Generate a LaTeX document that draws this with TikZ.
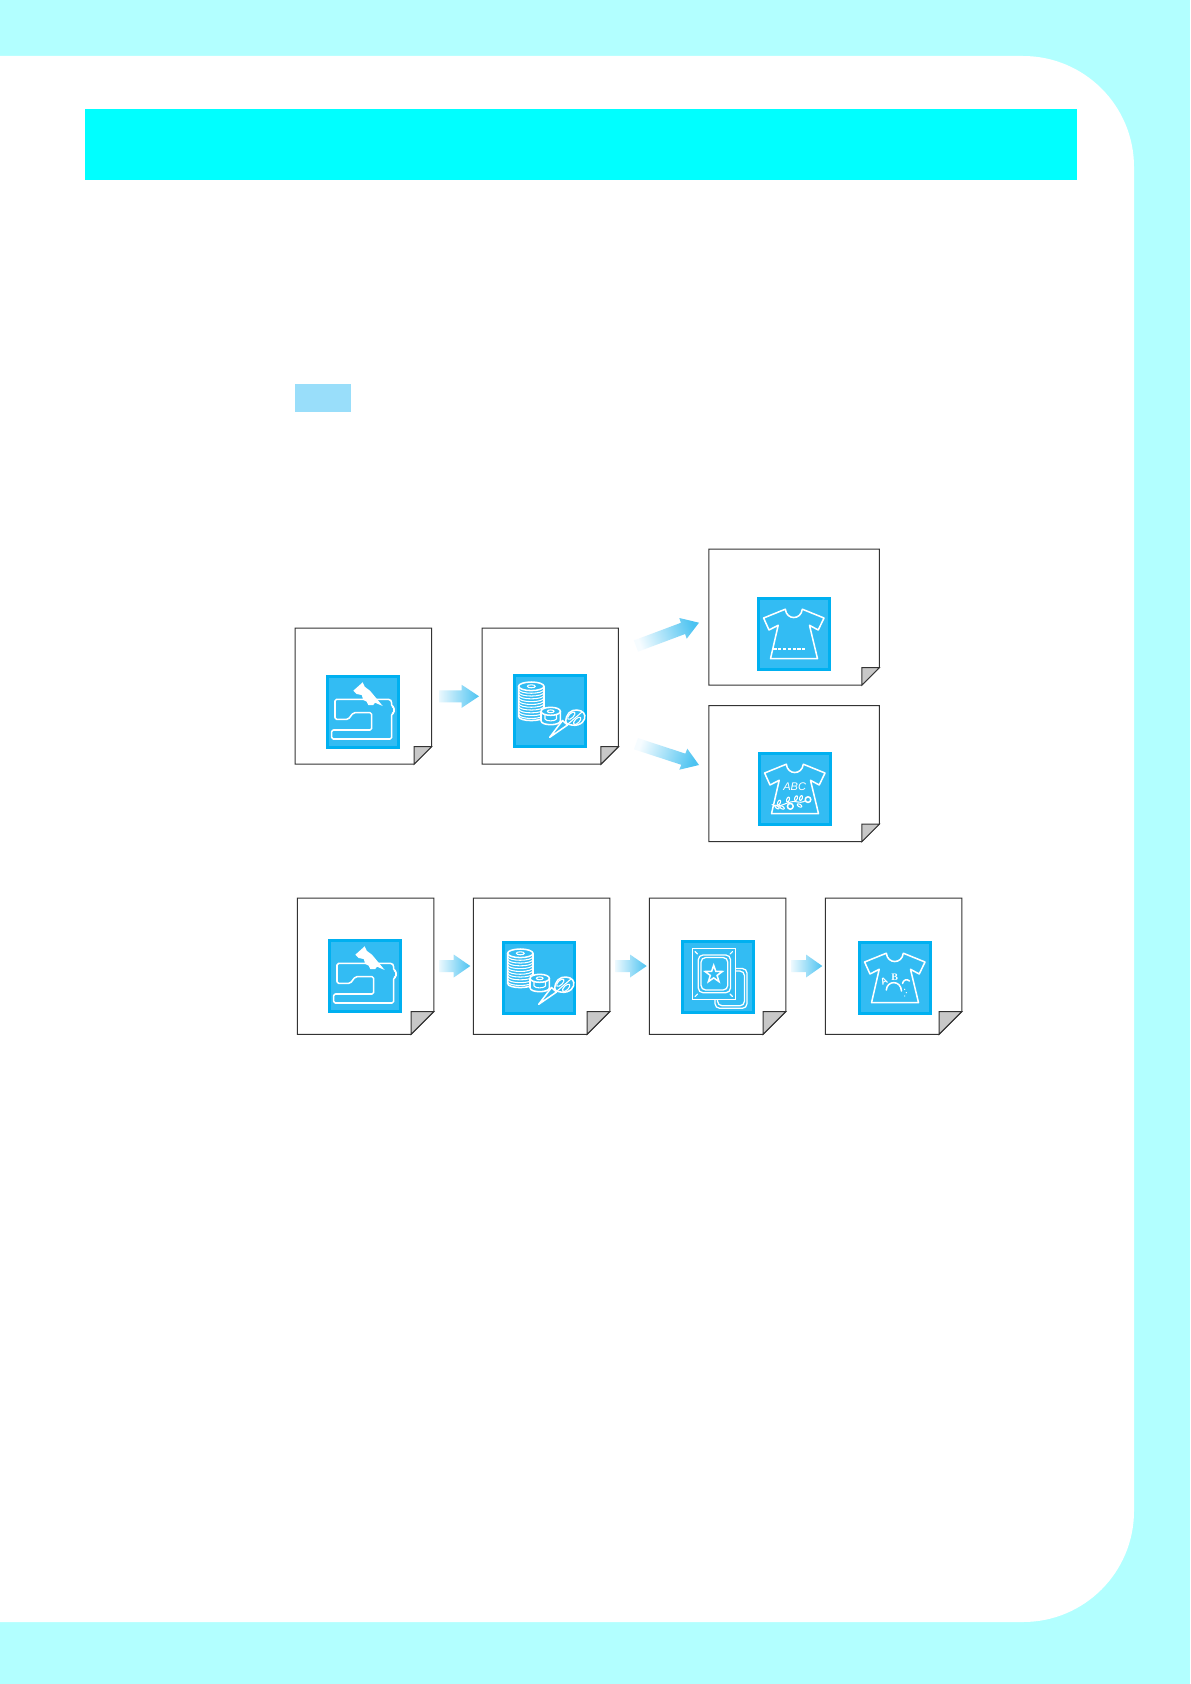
\documentclass[tikz,border=0pt]{standalone}
\usepackage{fontspec}
\setmainfont{Liberation Sans}
\newfontfamily\iconserif{Liberation Serif}
\definecolor{bandcol}{HTML}{B2FFFF}
\definecolor{headcol}{HTML}{00FFFF}
\definecolor{tabcol}{HTML}{99DEFA}
\definecolor{iconedge}{HTML}{00B0F0}
\definecolor{iconfill}{HTML}{33BCF3}
\definecolor{foldcol}{HTML}{C8C8C8}
\definecolor{arrowcol}{HTML}{4DC3F1}
\definecolor{arrowtail}{HTML}{EAF8FE}
\definecolor{slanttail}{HTML}{F6FCFF}
\definecolor{pageline}{HTML}{333333}
\tikzset{
  pagebox/.style={minimum height=136.2*0.75pt,inner sep=0pt,outer sep=0pt},
  pageedge/.style={draw=pageline,line width=0.75pt,fill=white,line join=miter},
  foldedge/.style={draw=pageline,line width=0.75pt,fill=foldcol,line join=miter},
  iconbox/.style={minimum size=71*0.75pt,inner sep=0pt,outer sep=0pt,draw=iconedge,line width=2.25pt,fill=iconfill},
  ink/.style={draw=white,line width=1.15pt,line join=round,line cap=round},
  thin ink/.style={draw=white,line width=0.8pt,line join=round,line cap=round},
  inkfill/.style={fill=white,draw=none},
  hoop/.style={draw=white,line width=0.95pt,rounded corners=3.5pt},
  blockarrow/.style={draw=none,bottom color=slanttail,top color=arrowcol}
}
% page with a folded corner: name, left, top, fold width, sheet width
\newcommand\PageSheet[5]{%
  \node[pagebox,minimum width=#5*0.75pt,anchor=north west] (#1) at (#2,#3) {};
  \path[pageedge] (#1.north west) -- (#1.north east) -- ([yshift=#4*0.75pt]#1.south east)
     -- ([xshift=-#4*0.75pt]#1.south east) -- (#1.south west) -- cycle;
  \path[foldedge] ([yshift=#4*0.75pt]#1.south east) -- ([xshift=-#4*0.75pt,yshift=#4*0.75pt]#1.south east)
     -- ([xshift=-#4*0.75pt]#1.south east) -- cycle;
}
% horizontal block arrow: name, tail x, head base x, tip x, y
\newcommand\FlatArrow[5]{%
  \coordinate (#1t) at (#2,#5);
  \coordinate (#1h) at (#4,#5);
  \path[draw=none,left color=arrowtail,right color=arrowcol]
    (#2,#5-6) -- (#3,#5-6) -- (#3,#5-11.5) -- (#1h) -- (#3,#5+11.5) -- (#3,#5+6) -- (#2,#5+6) -- cycle;
}
\newcommand\IconBase[3]{\node[iconbox,anchor=center] (#1) at (#2+37,#3+37) {};}
\newcommand\MachineArt{%
  \path[ink,rounded corners=1.2pt] (12.3,24.3) -- (64,24.3) -- (65.7,26.5) -- (65.7,31.7) -- (68,31.7) -- (68,38.3) -- (65.7,38.3)
    -- (65.7,64) -- (5.7,64) -- (5.7,55) -- (45.7,55) -- (45.7,37.7) -- (27.3,37.7) -- (22.3,44.3) -- (9,44.3) -- (9,24.3) -- cycle;
  \path[inkfill] (27.3,15.7) -- (36.7,7.3) -- (38.7,11.7) -- (44,15.7) -- (49,21.7) -- (56.7,31) -- (49,27.7) -- (47.3,30)
    -- (42.3,30) -- (40.7,26.7) -- (37.3,25) -- (35.7,20) -- (30.7,19) -- cycle;
}
\newcommand\ThreadArt{%
  \path[ink] (5.6,12.3) -- (5.6,42.3) .. controls (5.6,48) and (31,48) .. (31,42.3) -- (31,12.3);
  \foreach \yy in {15.2,18,20.8,23.6,26.4,29.2,32,34.8,37.6,40.4}{
    \path[thin ink] (5.6,\yy) .. controls (5.6,\yy+5.4) and (31,\yy+5.4) .. (31,\yy);
  }
  \path[ink] (18.3,12.3) ellipse [x radius=12.7,y radius=4.3];
  \path[thin ink] (18.3,12.3) ellipse [x radius=4,y radius=1.5];
  \path[ink,fill=iconfill] (28,37.3) -- (28,46.7) .. controls (28,52) and (47.4,52) .. (47.4,46.7) -- (47.4,37.3) -- cycle;
  \path[ink,fill=iconfill] (37.7,37.3) ellipse [x radius=9.7,y radius=4];
  \path[thin ink] (37.7,37.3) ellipse [x radius=3.4,y radius=1.4];
  \path[thin ink] (32,41) -- (32,45) .. controls (33,47.5) and (42,47.5) .. (43.5,45) -- (43.5,41);
  \path[ink,fill=iconfill] (36.7,63.3) -- (49.5,46.5) -- (54.5,51) -- cycle;
  \path[ink,fill=iconfill] (53,49) .. controls (52,40) and (58,35.5) .. (64,36) .. controls (70,36.5) and (73,40) .. (71.5,45)
    .. controls (70,50) and (62,54) .. (53,49) -- cycle;
  \path[thin ink,rotate around={45:(58.3,41.7)}] (58.3,41.7) ellipse [x radius=4.8,y radius=2.2];
  \path[thin ink,rotate around={45:(64.2,46.8)}] (64.2,46.8) ellipse [x radius=4.8,y radius=2.2];
  \path[thin ink] (55,50) -- (69,38);
}
% T-shirt outline in icon coordinates
\newcommand\TeeArt{%
  \path[ink] (28.3,12.2) .. controls (29.5,23.3) and (44,23.3) .. (45.3,12.2) -- (67,21) -- (61.2,33) -- (52.5,28.3)
    -- (60.5,61.7) -- (13.5,61.7) -- (21.2,28.3) -- (12,33) -- (6.6,21) -- cycle;
}
\newcommand\HemArt{%
  \path[ink,line width=1.4pt,dash pattern=on 2.5pt off 1.1pt,line cap=butt] (16.3,51.7) -- (49.7,51.7);
}
\newcommand\FloralArt{%
  \node[text=white,font=\fontsize{8.3}{8}\selectfont\itshape,inner sep=0pt] (abc) at (36.7,35) {ABC};
  \path[thin ink] (14,52.5) .. controls (22,58) and (30,47) .. (40,50) .. controls (44,51) and (47,49) .. (50,47.5);
  \path[ink,fill=iconfill] (32.3,54.3) circle [radius=2.9];
  \path[ink,fill=iconfill] (50,47.6) circle [radius=2.8];
  \foreach \lx/\ly/\lr in {21/50.5/65,24/55.5/-30,38/46.2/70,43/46/70,41.5/53.5/-30,19/55/-40,30/47.5/70}{
    \path[thin ink,rotate around={\lr:(\lx,\ly)}] (\lx,\ly) ellipse [x radius=2.6,y radius=1.3];
  }
}
\newcommand\ScatterArt{%
  \node[text=white,font=\fontsize{7}{7}\selectfont\bfseries,rotate=25,inner sep=0pt] (sca) at (26,40) {A};
  \node[text=white,font=\iconserif\fontsize{7.5}{7}\selectfont\bfseries,inner sep=0pt] (scb) at (36.6,35.8) {B};
  \path[ink] (28.3,49) .. controls (29,39) and (43,39) .. (43.5,50);
  \path[ink] (44.5,42.5) .. controls (45,39) and (49,37.5) .. (51.5,40);
  \foreach \dx/\dy in {46.7/48.3,48.3/51.7,46.7/55}{\path[inkfill] (\dx,\dy) circle [radius=0.7];}
}
\newcommand\HoopArt{%
  \path[hoop] (34,28.5) rectangle (66,68.3);
  \path[hoop] (36.5,31) rectangle (63.5,65.8);
  \path[draw=white,line width=0.95pt,fill=iconfill] (11.2,8.7) rectangle (54.3,59.3);
  \path[hoop] (17.3,15) rectangle (49.5,52.7);
  \path[hoop] (20,17.5) rectangle (46.8,50);
  \path[ink,miter limit=10,line join=miter]
    (32.7,25.3) -- (34.8,31.4) -- (41.3,31.5) -- (36.1,35.4) -- (38,41.6) -- (32.7,37.9) -- (27.4,41.6) -- (29.3,35.4) -- (24.1,31.5) -- (30.6,31.4) -- cycle;
  \path[thin ink] (14,11.5) -- (16.5,14) (51.5,11.5) -- (49,14) (14,56.5) -- (16.5,54) (51.5,56.5) -- (49,54);
}
\begin{document}
\begin{tikzpicture}[x=0.75pt,y=-0.75pt]
\useasboundingbox (0,0) rectangle (1190,1684);
% background
\fill[bandcol] (0,0) rectangle (1190,1684);
\fill[white] (0,56) -- (1023,56) arc[start angle=-90,end angle=0,radius=111] -- (1134,1511) arc[start angle=0,end angle=90,radius=111] -- (0,1622) -- cycle;
\node[fill=headcol,minimum width=992*0.75pt,minimum height=71*0.75pt,inner sep=0pt,outer sep=0pt,anchor=north west] (titlebar) at (85,109) {};
\node[fill=tabcol,minimum width=56*0.75pt,minimum height=28*0.75pt,inner sep=0pt,outer sep=0pt,anchor=north west] (tab) at (295,384) {};
% upper flow
\PageSheet{pa}{295}{628}{17.5}{136.5}
\PageSheet{pb}{482.2}{628}{17.5}{136.2}
\PageSheet{pc}{708.8}{549}{17.5}{170.5}
\PageSheet{pd}{708.8}{705.5}{17.5}{170.5}
\IconBase{ia}{326}{675}
\begin{scope}[shift={(326,675)}]\MachineArt\end{scope}
\IconBase{ib}{513}{674}
\begin{scope}[shift={(513,674)}]\ThreadArt\end{scope}
\IconBase{ic}{757}{597}
\begin{scope}[shift={(757,597)}]\TeeArt\HemArt\end{scope}
\IconBase{id}{758}{752}
\begin{scope}[shift={(758,752)}]\TeeArt\FloralArt\end{scope}
\FlatArrow{fa}{439}{461.7}{479}{696.3}
\coordinate (ua) at (636,646); \coordinate (ub) at (699,622.7);
\path[blockarrow,shading angle=-69.7] (633.9,640.4) -- (680.9,622.8) -- (679.3,618) -- (ub) -- (686.7,638.7) -- (685.1,634) -- (638.1,651.6) -- cycle;
\coordinate (la) at (636,743.7); \coordinate (lb) at (699,765);
\path[blockarrow,shading angle=-110] (638,738.1) -- (685.3,753.6) -- (687.3,748.7) -- (lb) -- (679.3,769.7) -- (681.3,764.8) -- (634,749.3) -- cycle;
% lower flow
\PageSheet{pe}{297.3}{898.2}{22.8}{136.5}
\PageSheet{pf}{473.3}{898.2}{22.8}{136.5}
\PageSheet{pg}{649.3}{898.2}{22.8}{136.5}
\PageSheet{ph}{825.3}{898.2}{22.8}{136.5}
\IconBase{ie}{328}{939}
\begin{scope}[shift={(328,939)}]\MachineArt\end{scope}
\IconBase{if}{502}{941}
\begin{scope}[shift={(502,941)}]\ThreadArt\end{scope}
\IconBase{ig}{681}{940}
\begin{scope}[shift={(681,940)}]\HoopArt\end{scope}
\IconBase{ih}{858}{941}
\begin{scope}[shift={(858,941)}]\TeeArt\ScatterArt\end{scope}
\FlatArrow{fb}{439.3}{453.7}{470.3}{966}
\FlatArrow{fc}{615.7}{630}{646.7}{966}
\FlatArrow{fd}{791.7}{806}{822.3}{966}
\end{tikzpicture}
\end{document}
